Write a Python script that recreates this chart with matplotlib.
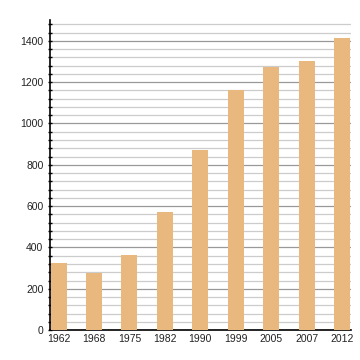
import matplotlib
matplotlib.use('Agg')
import matplotlib.pyplot as plt
from matplotlib.ticker import MultipleLocator

years = ['1962', '1968', '1975', '1982', '1990', '1999', '2005', '2007', '2012']
population = [326, 277, 365, 573, 874, 1163, 1271, 1300, 1415]

plt.rcParams['font.family'] = ['Liberation Sans', 'DejaVu Sans']

fig = plt.figure(figsize=(3.6, 3.6), dpi=100)
ax = fig.add_axes([0.139, 0.083, 0.836, 0.861])

x = range(len(years))
ax.bar(x, population, width=0.45, color='#e8b87e', zorder=3)

ax.set_xlim(-0.24, len(years) - 0.75)
ax.set_ylim(0, 1500)
ax.set_xticks(list(x))
ax.set_xticklabels(years)
ax.yaxis.set_major_locator(MultipleLocator(200))
ax.yaxis.set_minor_locator(MultipleLocator(40))

# grille
ax.grid(which='major', axis='y', color='#999999', linewidth=0.9, zorder=0)
ax.grid(which='minor', axis='y', color='#cccccc', linewidth=0.9, zorder=0)
ax.grid(axis='x', visible=False)

for s in ['top', 'right']:
    ax.spines[s].set_visible(False)
ax.spines['left'].set_linewidth(1.2)
ax.spines['bottom'].set_linewidth(1.2)

ax.tick_params(axis='y', which='major', direction='inout', length=3.5, width=1, labelsize=7.5, pad=3, labelcolor='#222222')
ax.tick_params(axis='y', which='minor', direction='inout', length=2.5, width=1)
ax.tick_params(axis='x', length=0, labelsize=7.5, pad=3, labelcolor='#222222')

fig.savefig('out.png', dpi=100)
